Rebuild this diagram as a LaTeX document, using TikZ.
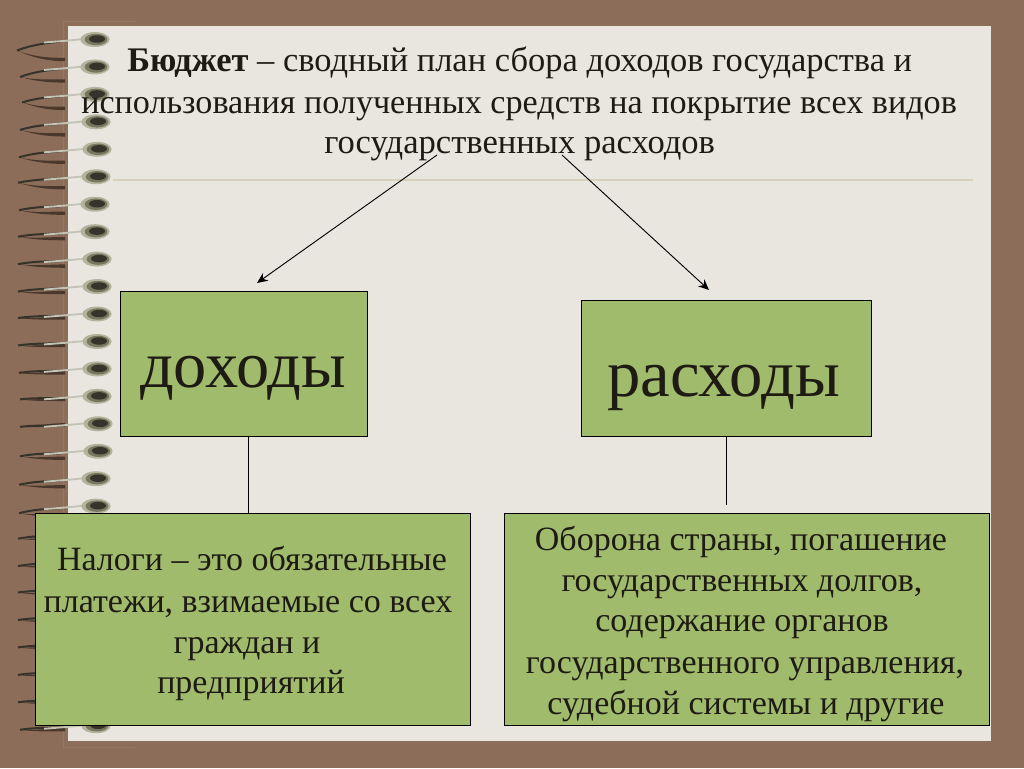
\documentclass[tikz,border=0pt]{standalone}
\usepackage{fontspec}
\setmainfont{Liberation Serif}
\usetikzlibrary{arrows.meta}
\definecolor{bgbrown}{HTML}{8C6D59}
\definecolor{paper}{HTML}{E9E6E0}
\definecolor{boxgreen}{HTML}{A0BB6C}
\definecolor{rule}{HTML}{D6D0BC}
\definecolor{ink}{HTML}{1E1A14}
\definecolor{ringdark}{HTML}{35332A}
\definecolor{ringlow}{HTML}{4A382C}
\definecolor{silver}{HTML}{C4C4B6}
\definecolor{knobhalo}{HTML}{B4B39E}
\definecolor{knobmid}{HTML}{77765F}
\tikzset{
 x=0.75pt,y=-0.75pt,
 box/.style={draw=black,line width=0.8pt,fill=boxgreen,inner sep=0pt,anchor=north west},
 lbl/.style={text=ink,font=\fontsize{25.5pt}{30.5pt}\selectfont,align=center,inner sep=0pt},
 big/.style={text=ink,inner sep=0pt,font=\fontsize{25.6pt}{30.5pt}\selectfont,anchor=base west},
 link/.style={draw=black,line width=0.7pt},
 arrowlink/.style={link,-{Stealth[length=8pt,width=7pt]}}
}
% #1 knob x, #2 knob y, #3 tip x, #4 tip dy, #5 lower arc dy
\newcommand{\ringcoil}[5]{%
 \begin{scope}[shift={(0,#2)}]
  \fill[ringlow] (#3,#4) .. controls (#3+15,{#4+(#5-#4)*0.5+1}) and (45,{#5-1.5}) .. (65,{#5-1.7}) -- (65,{#5+1.7}) .. controls (45,{#5+1.5}) and (#3+15,{#4+(#5-#4)*0.5+2}) .. (#3,#4) -- cycle;
  \draw[ringdark,line width=1.5pt] (#3,#4) .. controls (#3+14,{#4*0.5}) and (45,{#4*0.25+1}) .. (60,2);
  \draw[silver,line width=1.4pt] (44,3) .. controls (56,2) and (72,1) .. (#1-8,-1);
  \fill[knobhalo] (#1,0) ellipse [x radius=11pt,y radius=5.6pt];
  \fill[knobmid] (#1+1,0) ellipse [x radius=8.5pt,y radius=4.3pt];
  \fill[ringdark] (#1+2,-0.5) ellipse [x radius=6pt,y radius=2.8pt];
 \end{scope}}
\begin{document}
\begin{tikzpicture}
\useasboundingbox (0,0) rectangle (1024,768);
\fill[bgbrown] (0,0) rectangle (1024,768);
\draw[bgbrown!93!white,line width=0.5pt] (135,21) -- (63,21) -- (63,747) -- (135,747);
\fill[paper] (68,26) rectangle (991,741);
\draw[rule,line width=0.8pt] (113,180) -- (973,180);
\foreach \i/\kx/\tx/\td/\ld in {0/95/17/11/20,1/95/20/10/14,2/95/22/8/14,3/96/20/8/13,4/97/19/8/13,5/96/18/6/11,6/95/19/6/9,7/95/18/5/7,8/97/18/5/7,9/97/18/5/6,10/97/18/4/4,11/97/18/4/4,12/97/19/4/4,13/97/20/3/3,14/98/20/3/1,15/98/20/5/7,16/96/19/6/8,17/96/19/7/9,18/96/18/5/5,19/96/18/5/5,20/96/18/4/5,21/96/18/4/5,22/96/18/4/4,23/96/18/4/4,24/96/18/4/4,25/96/20/4/4}{
 \pgfmathsetmacro{\yy}{39.5+27.45*\i}
 \ringcoil{\kx}{\yy}{\tx}{\td}{\ld}
}
\node[big,font=\fontsize{25.85pt}{30.5pt}\selectfont] (t1) at (127,71) {\textbf{Бюджет} – сводный план сбора доходов государства и};
\node[big] (t2) at (81,113) {использования полученных средств на покрытие всех видов};
\node[big,font=\fontsize{25.93pt}{30.5pt}\selectfont] (t3) at (324,153) {государственных расходов};
\coordinate (a1s) at (437,155);
\coordinate (a1e) at (257,283);
\coordinate (a2s) at (562,155);
\coordinate (a2e) at (709,290);
\draw[arrowlink] (a1s) -- (a1e);
\draw[arrowlink] (a2s) -- (a2e);
\node[box,minimum width=185.5pt,minimum height=109pt] (dohody) at (119.5,290.5) {};
\node[box,minimum width=217.5pt,minimum height=102pt] (rashody) at (580.5,299.5) {};
\node[big,font=\fontsize{49.8pt}{58pt}\selectfont,anchor=base] (dl) at (243,387) {доходы};
\node[big,font=\fontsize{50pt}{58pt}\selectfont,anchor=base] (rl) at (723.5,396) {расходы};
\coordinate (d1e) at (248.5,513);
\coordinate (r1e) at (726,505);
\draw[link] (dohody.south -| d1e) -- (d1e);
\draw[link] (rashody.south -| r1e) -- (r1e);
\node[box,minimum width=326.5pt,minimum height=159.5pt] (nalogi) at (34.5,512.5) {};
\node[box,minimum width=364pt,minimum height=159.5pt] (oborona) at (504,512.5) {};
\node[lbl,anchor=base] (n1) at (252,570) {Налоги – это обязательные};
\node[lbl,anchor=base] (n2) at (248,612) {платежи, взимаемые со всех};
\node[lbl,anchor=base] (n3) at (247,653) {граждан и};
\node[lbl,anchor=base] (n4) at (251,693) {предприятий};
\node[lbl,anchor=base] (o1) at (741,550) {Оборона страны, погашение};
\node[lbl,anchor=base] (o2) at (742,591) {государственных долгов,};
\node[lbl,anchor=base] (o3) at (742,631) {содержание органов};
\node[lbl,anchor=base] (o4) at (745,673) {государственного управления,};
\node[lbl,anchor=base] (o5) at (746,714) {судебной системы и другие};
\end{tikzpicture}
\end{document}
